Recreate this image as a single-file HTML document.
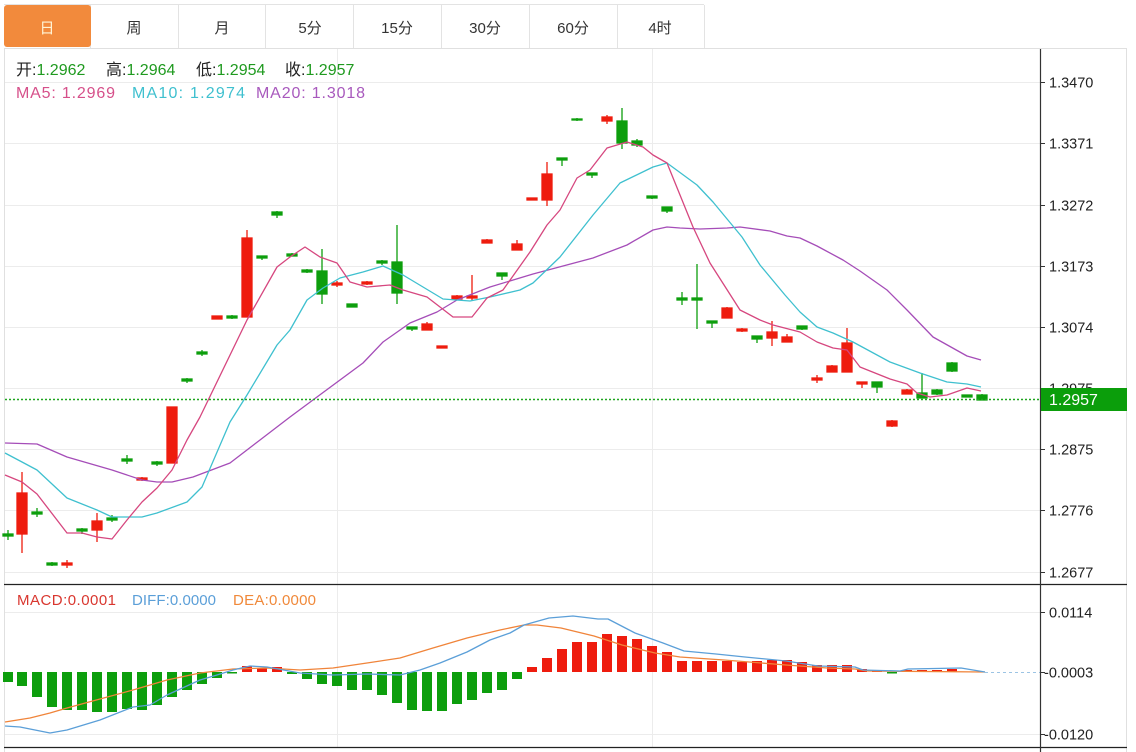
<!DOCTYPE html>
<html><head><meta charset="utf-8"><style>
html,body{margin:0;padding:0;background:#fff;width:1136px;height:752px;overflow:hidden}
svg{display:block}
text{font-family:"Liberation Sans","Noto Sans CJK SC",sans-serif}
</style></head><body>
<svg width="1136" height="752" viewBox="0 0 1136 752" xmlns="http://www.w3.org/2000/svg">
<!-- tabs -->
<g stroke="#e3e3e3" stroke-width="1" fill="none">
<line x1="4" y1="4.5" x2="704" y2="4.5"/>
<line x1="90.5" y1="5" x2="90.5" y2="48"/>
<line x1="178.5" y1="5" x2="178.5" y2="48"/>
<line x1="265.5" y1="5" x2="265.5" y2="48"/>
<line x1="353.5" y1="5" x2="353.5" y2="48"/>
<line x1="441.5" y1="5" x2="441.5" y2="48"/>
<line x1="529.5" y1="5" x2="529.5" y2="48"/>
<line x1="617.5" y1="5" x2="617.5" y2="48"/>
<line x1="704.5" y1="5" x2="704.5" y2="48"/>
</g>
<rect x="4" y="5" width="87" height="42" rx="3" fill="#f28a3c"/>
<g font-size="15" text-anchor="middle" fill="#333">
<text x="47" y="33" fill="#fff4d6">日</text>
<text x="134" y="33">周</text>
<text x="222" y="33">月</text>
<text x="310" y="33">5分</text>
<text x="397" y="33">15分</text>
<text x="485" y="33">30分</text>
<text x="573" y="33">60分</text>
<text x="660" y="33">4时</text>
</g>
<!-- chart frame -->
<rect x="4.5" y="48.5" width="1122" height="710" fill="none" stroke="#e0e0e0"/>
<!-- grid -->
<g stroke="#ececec" stroke-width="1">
<line x1="5" y1="82.5" x2="1040" y2="82.5"/>
<line x1="5" y1="143.5" x2="1040" y2="143.5"/>
<line x1="5" y1="205.5" x2="1040" y2="205.5"/>
<line x1="5" y1="266.5" x2="1040" y2="266.5"/>
<line x1="5" y1="327.5" x2="1040" y2="327.5"/>
<line x1="5" y1="388.5" x2="1040" y2="388.5"/>
<line x1="5" y1="449.5" x2="1040" y2="449.5"/>
<line x1="5" y1="510.5" x2="1040" y2="510.5"/>
<line x1="5" y1="572.5" x2="1040" y2="572.5"/>
<line x1="5" y1="612.5" x2="1040" y2="612.5"/>
<line x1="5" y1="734.5" x2="1040" y2="734.5"/>
<line x1="337.5" y1="49" x2="337.5" y2="747"/>
<line x1="652.5" y1="49" x2="652.5" y2="747"/>
</g>
<!-- legend -->
<g font-size="16">
<text x="16" y="75" fill="#222">开:<tspan fill="#1f9a1f">1.2962</tspan></text>
<text x="106" y="75" fill="#222">高:<tspan fill="#1f9a1f">1.2964</tspan></text>
<text x="196" y="75" fill="#222">低:<tspan fill="#1f9a1f">1.2954</tspan></text>
<text x="285" y="75" fill="#222">收:<tspan fill="#1f9a1f">1.2957</tspan></text>
<text x="16" y="98" fill="#d6508a" textLength="99">MA5: 1.2969</text>
<text x="132" y="98" fill="#3fc0cf" textLength="113">MA10: 1.2974</text>
<text x="256" y="98" fill="#a859bd" textLength="109">MA20: 1.3018</text>
</g>
<g font-size="15">
<text x="17" y="605" fill="#d9362e" textLength="99">MACD:0.0001</text>
<text x="132" y="605" fill="#5b9fd8" textLength="84">DIFF:0.0000</text>
<text x="233" y="605" fill="#f0893a" textLength="83">DEA:0.0000</text>
</g>
<!-- candles -->
<g id="candles">
<g fill="#0d9e0d" stroke="#0d9e0d" stroke-width="1.3">
<line x1="8" y1="530" x2="8" y2="540"/><rect x="3" y="534" width="10" height="2"/>
<line x1="37" y1="508" x2="37" y2="517"/><rect x="32" y="512" width="10" height="2"/>
<line x1="52" y1="562" x2="52" y2="566"/><rect x="47" y="563" width="10" height="2"/>
<line x1="82" y1="528" x2="82" y2="534"/><rect x="77" y="529" width="10" height="2"/>
<line x1="112" y1="515" x2="112" y2="522"/><rect x="107" y="518" width="10" height="2"/>
<line x1="127" y1="455" x2="127" y2="464"/><rect x="122" y="459" width="10" height="2"/>
<line x1="157" y1="461" x2="157" y2="466"/><rect x="152" y="462" width="10" height="2"/>
<line x1="187" y1="378" x2="187" y2="383"/><rect x="182" y="379" width="10" height="2"/>
<line x1="202" y1="350" x2="202" y2="356"/><rect x="197" y="352" width="10" height="2"/>
<line x1="232" y1="315" x2="232" y2="319"/><rect x="227" y="316" width="10" height="2"/>
<line x1="262" y1="256" x2="262" y2="260"/><rect x="257" y="256" width="10" height="2"/>
<line x1="277" y1="211" x2="277" y2="218"/><rect x="272" y="212" width="10" height="3"/>
<line x1="292" y1="253" x2="292" y2="256"/><rect x="287" y="254" width="10" height="2"/>
<line x1="307" y1="269" x2="307" y2="273"/><rect x="302" y="270" width="10" height="2"/>
<line x1="322" y1="249" x2="322" y2="304"/><rect x="317" y="271" width="10" height="23"/>
<line x1="352" y1="304" x2="352" y2="307"/><rect x="347" y="304" width="10" height="3"/>
<line x1="382" y1="260" x2="382" y2="265"/><rect x="377" y="261" width="10" height="2"/>
<line x1="397" y1="225" x2="397" y2="304"/><rect x="392" y="262" width="10" height="31"/>
<line x1="412" y1="327" x2="412" y2="331"/><rect x="407" y="327" width="10" height="2"/>
<line x1="502" y1="273" x2="502" y2="280"/><rect x="497" y="273" width="10" height="3"/>
<line x1="562" y1="158" x2="562" y2="166"/><rect x="557" y="158" width="10" height="2"/>
<line x1="577" y1="118" x2="577" y2="121"/><rect x="572" y="119" width="10" height="1"/>
<line x1="592" y1="173" x2="592" y2="178"/><rect x="587" y="173" width="10" height="2"/>
<line x1="622" y1="108" x2="622" y2="149"/><rect x="617" y="121" width="10" height="22"/>
<line x1="637" y1="139" x2="637" y2="147"/><rect x="632" y="141" width="10" height="4"/>
<line x1="652" y1="196" x2="652" y2="199"/><rect x="647" y="196" width="10" height="2"/>
<line x1="667" y1="207" x2="667" y2="213"/><rect x="662" y="207" width="10" height="4"/>
<line x1="682" y1="292" x2="682" y2="305"/><rect x="677" y="298" width="10" height="2"/>
<line x1="697" y1="264" x2="697" y2="329"/><rect x="692" y="298" width="10" height="2"/>
<line x1="712" y1="321" x2="712" y2="328"/><rect x="707" y="321" width="10" height="2"/>
<line x1="757" y1="336" x2="757" y2="343"/><rect x="752" y="336" width="10" height="3"/>
<line x1="802" y1="326" x2="802" y2="330"/><rect x="797" y="326" width="10" height="3"/>
<line x1="877" y1="382" x2="877" y2="393"/><rect x="872" y="382" width="10" height="5"/>
<line x1="922" y1="373" x2="922" y2="398"/><rect x="917" y="393" width="10" height="5"/>
<line x1="937" y1="389" x2="937" y2="395"/><rect x="932" y="390" width="10" height="4"/>
<line x1="952" y1="362" x2="952" y2="372"/><rect x="947" y="363" width="10" height="8"/>
<line x1="967" y1="395" x2="967" y2="397"/><rect x="962" y="395" width="10" height="2"/>
<line x1="982" y1="394" x2="982" y2="400"/><rect x="977" y="395" width="10" height="5"/>
</g>
<g fill="#ee1c0e" stroke="#ee1c0e" stroke-width="1.3">
<line x1="22" y1="472" x2="22" y2="553"/><rect x="17" y="493" width="10" height="41"/>
<line x1="67" y1="560" x2="67" y2="568"/><rect x="62" y="563" width="10" height="2"/>
<line x1="97" y1="513" x2="97" y2="542"/><rect x="92" y="521" width="10" height="9"/>
<line x1="142" y1="477" x2="142" y2="481"/><rect x="137" y="478" width="10" height="2"/>
<rect x="167" y="407" width="10" height="56"/>
<rect x="212" y="316" width="10" height="3"/>
<line x1="247" y1="230" x2="247" y2="317"/><rect x="242" y="238" width="10" height="79"/>
<line x1="337" y1="281" x2="337" y2="287"/><rect x="332" y="283" width="10" height="2"/>
<line x1="367" y1="281" x2="367" y2="285"/><rect x="362" y="282" width="10" height="2"/>
<line x1="427" y1="322" x2="427" y2="330"/><rect x="422" y="324" width="10" height="6"/>
<rect x="437" y="346" width="10" height="2"/>
<line x1="457" y1="295" x2="457" y2="299"/><rect x="452" y="296" width="10" height="3"/>
<line x1="472" y1="275" x2="472" y2="300"/><rect x="467" y="296" width="10" height="2"/>
<line x1="487" y1="239" x2="487" y2="243"/><rect x="482" y="240" width="10" height="3"/>
<line x1="517" y1="240" x2="517" y2="250"/><rect x="512" y="244" width="10" height="6"/>
<rect x="527" y="198" width="10" height="2"/>
<line x1="547" y1="162" x2="547" y2="206"/><rect x="542" y="174" width="10" height="26"/>
<line x1="607" y1="115" x2="607" y2="124"/><rect x="602" y="117" width="10" height="4"/>
<line x1="727" y1="307" x2="727" y2="318"/><rect x="722" y="308" width="10" height="10"/>
<line x1="742" y1="328" x2="742" y2="332"/><rect x="737" y="329" width="10" height="2"/>
<line x1="772" y1="321" x2="772" y2="346"/><rect x="767" y="332" width="10" height="6"/>
<line x1="787" y1="334" x2="787" y2="342"/><rect x="782" y="337" width="10" height="5"/>
<line x1="817" y1="375" x2="817" y2="383"/><rect x="812" y="378" width="10" height="2"/>
<line x1="832" y1="365" x2="832" y2="372"/><rect x="827" y="366" width="10" height="6"/>
<line x1="847" y1="328" x2="847" y2="372"/><rect x="842" y="343" width="10" height="29"/>
<line x1="862" y1="382" x2="862" y2="388"/><rect x="857" y="382" width="10" height="2"/>
<line x1="892" y1="420" x2="892" y2="427"/><rect x="887" y="421" width="10" height="5"/>
<line x1="907" y1="389" x2="907" y2="394"/><rect x="902" y="390" width="10" height="4"/>
</g>
</g>
<!-- MA lines -->
<g fill="none" stroke-width="1.3" stroke-linejoin="round">
<polyline stroke="#a54db8" points="5,443 37,444 67,457 112,470 142,480 157,482 172,482 193,477 230,463 260,440 290,417 317,397 363,363 383,342 410,323 437,312 457,300 490,287 533,274 593,258 627,245 653,230 667,227 680,228 700,229 727,228 740,227 770,231 787,236 800,238 817,246 843,260 860,271 887,290 907,310 933,337 967,356 981,360"/>
<polyline stroke="#3fc0cf" points="5,453 22,462 37,470 67,498 97,510 112,517 142,517 157,513 187,502 202,487 230,422 247,395 277,345 290,330 307,300 323,288 340,278 363,272 383,266 403,275 443,299 470,301 490,297 520,290 533,283 560,257 593,215 620,183 653,167 667,163 697,185 713,202 742,237 760,265 785,295 800,312 817,327 833,333 853,342 890,362 920,373 947,382 967,384 981,387"/>
<polyline stroke="#d6477f" points="5,475 22,482 37,494 67,533 82,533 97,537 112,539 127,520 142,502 157,488 172,470 187,440 200,417 247,320 277,267 290,257 305,247 320,257 337,263 350,282 367,287 390,285 403,290 427,297 453,317 472,317 487,298 503,290 530,252 547,225 560,210 577,178 590,170 607,148 627,142 643,147 653,155 667,163 693,227 710,263 740,310 760,320 773,325 800,332 817,342 833,348 847,350 860,367 890,379 907,384 917,393 930,397 947,395 967,388 981,391"/>
</g>
<!-- last price line -->
<line x1="5" y1="399.5" x2="1040" y2="399.5" stroke="#1fa51f" stroke-width="1.4" stroke-dasharray="2,2"/>
<!-- MACD bars -->
<g fill="#0d9e0d">
<rect x="3" y="672" width="10" height="10"/>
<rect x="17" y="672" width="10" height="14"/>
<rect x="32" y="672" width="10" height="25"/>
<rect x="47" y="672" width="10" height="35"/>
<rect x="62" y="672" width="10" height="38"/>
<rect x="77" y="672" width="10" height="38"/>
<rect x="92" y="672" width="10" height="40"/>
<rect x="107" y="672" width="10" height="40"/>
<rect x="122" y="672" width="10" height="37"/>
<rect x="137" y="672" width="10" height="38"/>
<rect x="152" y="672" width="10" height="33"/>
<rect x="167" y="672" width="10" height="25"/>
<rect x="182" y="672" width="10" height="18"/>
<rect x="197" y="672" width="10" height="12"/>
<rect x="212" y="672" width="10" height="6"/>
<rect x="227" y="672" width="10" height="1.5"/>
<rect x="287" y="672" width="10" height="2"/>
<rect x="302" y="672" width="10" height="7"/>
<rect x="317" y="672" width="10" height="12"/>
<rect x="332" y="672" width="10" height="14"/>
<rect x="347" y="672" width="10" height="18"/>
<rect x="362" y="672" width="10" height="18"/>
<rect x="377" y="672" width="10" height="23"/>
<rect x="392" y="672" width="10" height="31"/>
<rect x="407" y="672" width="10" height="38"/>
<rect x="422" y="672" width="10" height="39"/>
<rect x="437" y="672" width="10" height="39"/>
<rect x="452" y="672" width="10" height="32"/>
<rect x="467" y="672" width="10" height="28"/>
<rect x="482" y="672" width="10" height="21"/>
<rect x="497" y="672" width="10" height="18"/>
<rect x="512" y="672" width="10" height="7"/>
<rect x="887" y="672" width="10" height="1.5"/>
</g>
<g fill="#ee1c0e">
<rect x="242" y="666" width="10" height="6"/>
<rect x="257" y="668" width="10" height="4"/>
<rect x="272" y="667" width="10" height="5"/>
<rect x="527" y="667" width="10" height="5"/>
<rect x="542" y="658" width="10" height="14"/>
<rect x="557" y="649" width="10" height="23"/>
<rect x="572" y="642" width="10" height="30"/>
<rect x="587" y="642" width="10" height="30"/>
<rect x="602" y="634" width="10" height="38"/>
<rect x="617" y="636" width="10" height="36"/>
<rect x="632" y="639" width="10" height="33"/>
<rect x="647" y="646" width="10" height="26"/>
<rect x="662" y="652" width="10" height="20"/>
<rect x="677" y="661" width="10" height="11"/>
<rect x="692" y="661" width="10" height="11"/>
<rect x="707" y="661" width="10" height="11"/>
<rect x="722" y="661" width="10" height="11"/>
<rect x="737" y="662" width="10" height="10"/>
<rect x="752" y="661" width="10" height="11"/>
<rect x="767" y="660" width="10" height="12"/>
<rect x="782" y="660" width="10" height="12"/>
<rect x="797" y="662" width="10" height="10"/>
<rect x="812" y="665" width="10" height="7"/>
<rect x="827" y="665" width="10" height="7"/>
<rect x="842" y="665" width="10" height="7"/>
<rect x="857" y="669" width="10" height="3"/>
<rect x="872" y="670" width="10" height="2"/>
<rect x="902" y="670" width="10" height="2"/>
<rect x="917" y="670" width="10" height="2"/>
<rect x="932" y="670" width="10" height="2"/>
<rect x="947" y="669" width="10" height="3"/>
</g>
<!-- MACD lines -->
<g fill="none" stroke-width="1.3" stroke-linejoin="round">
<polyline stroke="#f0843a" points="5,722 30,718 50,713 67,708 100,699 133,690 167,680 200,673 233,669 267,668 300,670 333,668 367,663 400,658 433,648 467,638 500,630 524,625 537,625 561,628 594,636 622,645 655,653 680,657 724,660 786,665 827,668 855,669 867,671 985,672"/>
<polyline stroke="#5b9fd8" points="5,726 20,727 50,733 67,730 100,720 133,707 150,705 167,695 200,680 217,675 233,670 250,666 267,667 300,673 333,675 367,674 400,675 420,670 440,663 467,652 490,640 510,633 524,625 549,618 573,616 598,619 608,619 635,633 663,643 684,651 716,654 745,657 786,661 818,666 855,667 863,670 900,671 908,669 961,668 985,672"/>
</g>
<line x1="985" y1="672.5" x2="1040" y2="672.5" stroke="#9cc4e4" stroke-width="1" stroke-dasharray="3,3"/>
<!-- separators -->
<line x1="4" y1="584.5" x2="1127" y2="584.5" stroke="#222" stroke-width="1.2"/>
<line x1="4" y1="747.5" x2="1127" y2="747.5" stroke="#222" stroke-width="1.2"/>
<line x1="1040.5" y1="49" x2="1040.5" y2="752" stroke="#333" stroke-width="1.2"/>
<!-- axis ticks & labels -->
<g stroke="#333" stroke-width="1">
<line x1="1041" y1="82.5" x2="1045" y2="82.5"/>
<line x1="1041" y1="143.5" x2="1045" y2="143.5"/>
<line x1="1041" y1="205.5" x2="1045" y2="205.5"/>
<line x1="1041" y1="266.5" x2="1045" y2="266.5"/>
<line x1="1041" y1="327.5" x2="1045" y2="327.5"/>
<line x1="1041" y1="388.5" x2="1045" y2="388.5"/>
<line x1="1041" y1="449.5" x2="1045" y2="449.5"/>
<line x1="1041" y1="510.5" x2="1045" y2="510.5"/>
<line x1="1041" y1="572.5" x2="1045" y2="572.5"/>
<line x1="1041" y1="612.5" x2="1045" y2="612.5"/>
<line x1="1041" y1="672.5" x2="1045" y2="672.5"/>
<line x1="1041" y1="734.5" x2="1045" y2="734.5"/>
</g>
<g font-size="14.5" fill="#222">
<text x="1049" y="87.5">1.3470</text>
<text x="1049" y="148.5">1.3371</text>
<text x="1049" y="210.5">1.3272</text>
<text x="1049" y="271.5">1.3173</text>
<text x="1049" y="332.5">1.3074</text>
<text x="1049" y="393.5">1.2975</text>
<text x="1049" y="454.5">1.2875</text>
<text x="1049" y="515.5">1.2776</text>
<text x="1049" y="577.5">1.2677</text>
<text x="1049" y="617.5">0.0114</text>
<text x="1044" y="677.5">-0.0003</text>
<text x="1044" y="739.5">-0.0120</text>
</g>
<rect x="1041" y="388" width="86" height="23" fill="#0b9e0b"/>
<text x="1049" y="405" font-size="16" fill="#fff">1.2957</text>
</svg>
</body></html>
